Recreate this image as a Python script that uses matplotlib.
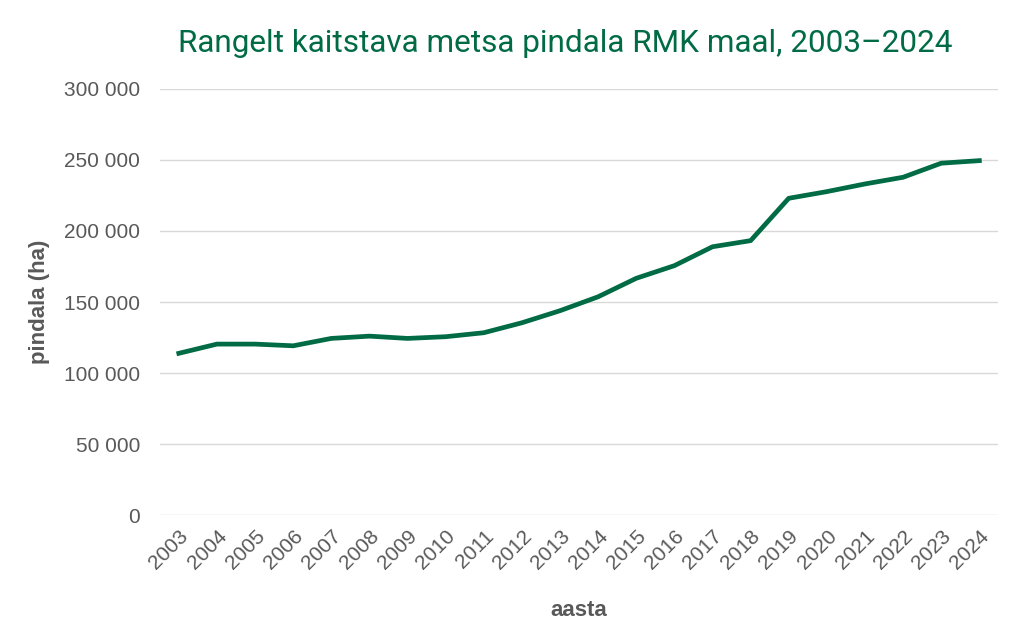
import matplotlib.pyplot as plt
from matplotlib.ticker import FuncFormatter

years = [str(y) for y in range(2003, 2025)]
area = [113900, 120400, 120400, 119200, 124400, 126000, 124400, 125600, 128400,
        135400, 143900, 153700, 166700, 175600, 188900, 193200,
        223000, 227700, 233100, 237800, 247700, 249500]

green = "#006B45"
gray = "#595959"

plt.rcParams['font.family'] = ['Liberation Sans', 'DejaVu Sans']

fig = plt.figure(figsize=(10.24, 6.44), dpi=100)
ax = fig.add_axes([0.156, 0.2, 0.819, 0.662])

x = list(range(len(years)))
ax.plot(x, area, color=green, linewidth=3.4, solid_joinstyle='round', zorder=3)

ax.set_xlim(-0.5, len(years) - 0.5)
ax.set_ylim(0, 300000)
ax.set_yticks(range(0, 300001, 50000))
ax.yaxis.set_major_formatter(FuncFormatter(lambda v, p: f"{int(v):,}".replace(",", " ")))
ax.set_xticks(x)
ax.set_xticklabels(years, rotation=45, ha='right', rotation_mode='anchor')

ax.grid(axis='y', color='#d9d9d9', linewidth=1)
ax.set_axisbelow(True)
for s in ax.spines.values():
    s.set_visible(False)
ax.tick_params(axis='both', length=0, labelsize=15, labelcolor=gray)
ax.tick_params(axis='x', pad=8)
ax.tick_params(axis='y', pad=14)

ax.set_ylabel("pindala (ha)", fontsize=16, fontweight='bold', color=gray, labelpad=10)
ax.set_xlabel("aasta", fontsize=16, fontweight='bold', color=gray, labelpad=20)

fig.text(0.552, 0.933, "Rangelt kaitstava metsa pindala RMK maal, 2003–2024",
         ha='center', va='center', fontsize=22.7, color=green, family=['Roboto', 'DejaVu Sans'])

fig.savefig("out.png", dpi=100)
